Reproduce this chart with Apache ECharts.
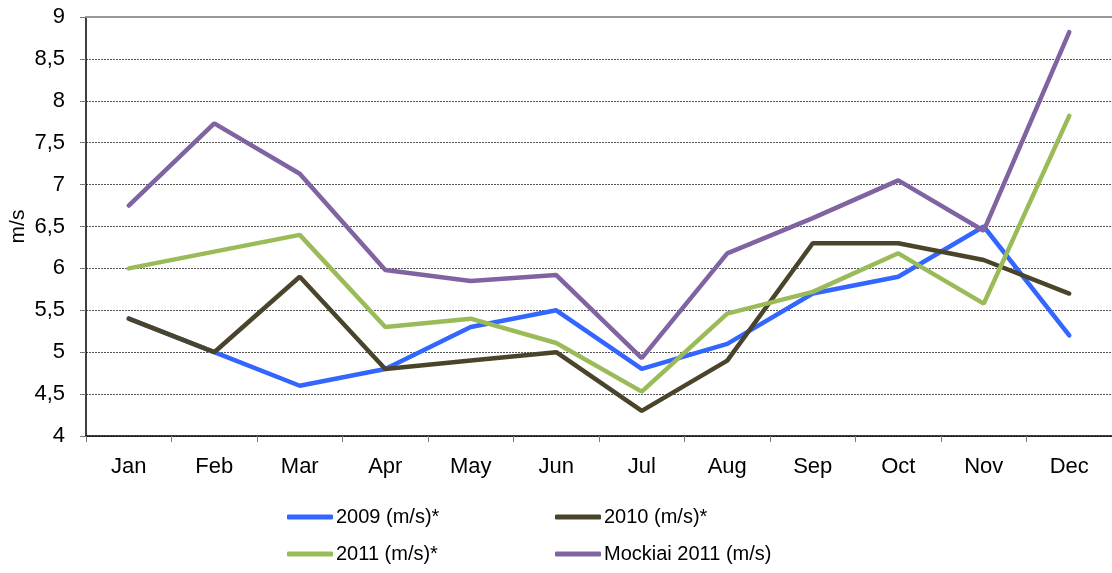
<!DOCTYPE html>
<html>
<head>
<meta charset="utf-8">
<script src="https://cdn.jsdelivr.net/npm/echarts@6/dist/echarts.min.js"></script>
<style>
  html, body { margin: 0; padding: 0; background: #fff; }
  #chart { width: 1112px; height: 573px; }
</style>
</head>
<body>
<div id="chart"></div>
<script>
// months
const months = ['Jan', 'Feb', 'Mar', 'Apr', 'May', 'Jun', 'Jul', 'Aug', 'Sep', 'Oct', 'Nov', 'Dec']
// wind speed, m/s
const v2009 = [5.4, 5.0, 4.6, 4.8, 5.3, 5.5, 4.8, 5.1, 5.7, 5.9, 6.5, 5.2]
const v2010 = [5.4, 5.0, 5.9, 4.8, 4.9, 5.0, 4.3, 4.9, 6.3, 6.3, 6.1, 5.7]
const v2011 = [6.0, 6.2, 6.4, 5.3, 5.4, 5.11, 4.53, 5.46, 5.72, 6.18, 5.58, 7.82]
const mockiai2011 = [6.75, 7.73, 7.13, 5.98, 5.85, 5.92, 4.93, 6.18, 6.6, 7.05, 6.45, 8.82]
const seriesNames = ['2009 (m/s)*', '2010 (m/s)*', '2011 (m/s)*', 'Mockiai 2011 (m/s)']

const font = 'Liberation Sans, Arial, sans-serif'

function lineSeries (name, data, color) {
  return {
    name: name,
    type: 'line',
    data: data,
    showSymbol: false,
    symbol: 'none',
    color: color,
    lineStyle: { width: 4.5, color: color, cap: 'round' },
    silent: true
  }
}

function legendCol (left, names) {
  return {
    orient: 'vertical',
    left: left,
    top: 507,
    padding: 0,
    itemWidth: 46,
    itemHeight: 5,
    itemGap: 17,
    icon: 'roundRect',
    data: names,
    textStyle: { fontFamily: font, fontSize: 20, color: '#000', padding: [0, 0, 0, -2] }
  }
}

let myChart = echarts.init(document.getElementById('chart'))
myChart.setOption({
  animation: false,
  backgroundColor: '#ffffff',
  grid: {
    left: 86,
    right: 0,
    top: 17,
    bottom: 137,
    containLabel: false,
    outerBoundsMode: 'none'
  },
  legend: [
    legendCol(287, [seriesNames[0], seriesNames[2]]),
    legendCol(555, [seriesNames[1], seriesNames[3]])
  ],
  xAxis: [
    {
      type: 'category',
      data: months,
      boundaryGap: true,
      axisLine: { lineStyle: { color: '#000', width: 1.5 } },
      axisTick: { show: true, length: 6, lineStyle: { color: '#777' } },
      axisLabel: { fontFamily: font, fontSize: 22, color: '#000', margin: 20 },
      splitLine: { show: false }
    },
    {
      // top border of the plot
      type: 'category',
      data: months,
      position: 'top',
      axisLine: { lineStyle: { color: '#999', width: 2 } },
      axisTick: { show: false },
      axisLabel: { show: false },
      splitLine: { show: false }
    }
  ],
  yAxis: {
    type: 'value',
    min: 4,
    max: 9,
    interval: 0.5,
    name: 'm/s',
    nameLocation: 'middle',
    nameRotate: 90,
    nameGap: 57,
    nameMoveOverlap: false,
    nameTextStyle: { fontFamily: font, fontSize: 21, color: '#000' },
    axisLine: { show: true, lineStyle: { color: '#000', width: 1.5 } },
    axisTick: { show: true, length: 6, lineStyle: { color: '#777' } },
    axisLabel: {
      fontFamily: font,
      fontSize: 22,
      color: '#000',
      margin: 21,
      formatter: value => String(value).replace('.', ',')
    },
    splitLine: { lineStyle: { color: '#555', type: [2, 1], width: 1 } }
  },
  series: [
    lineSeries(seriesNames[0], v2009, '#3366ff'),
    lineSeries(seriesNames[1], v2010, '#4a452a'),
    lineSeries(seriesNames[2], v2011, '#9bbb59'),
    lineSeries(seriesNames[3], mockiai2011, '#8064a2')
  ]
})
</script>
</body>
</html>
